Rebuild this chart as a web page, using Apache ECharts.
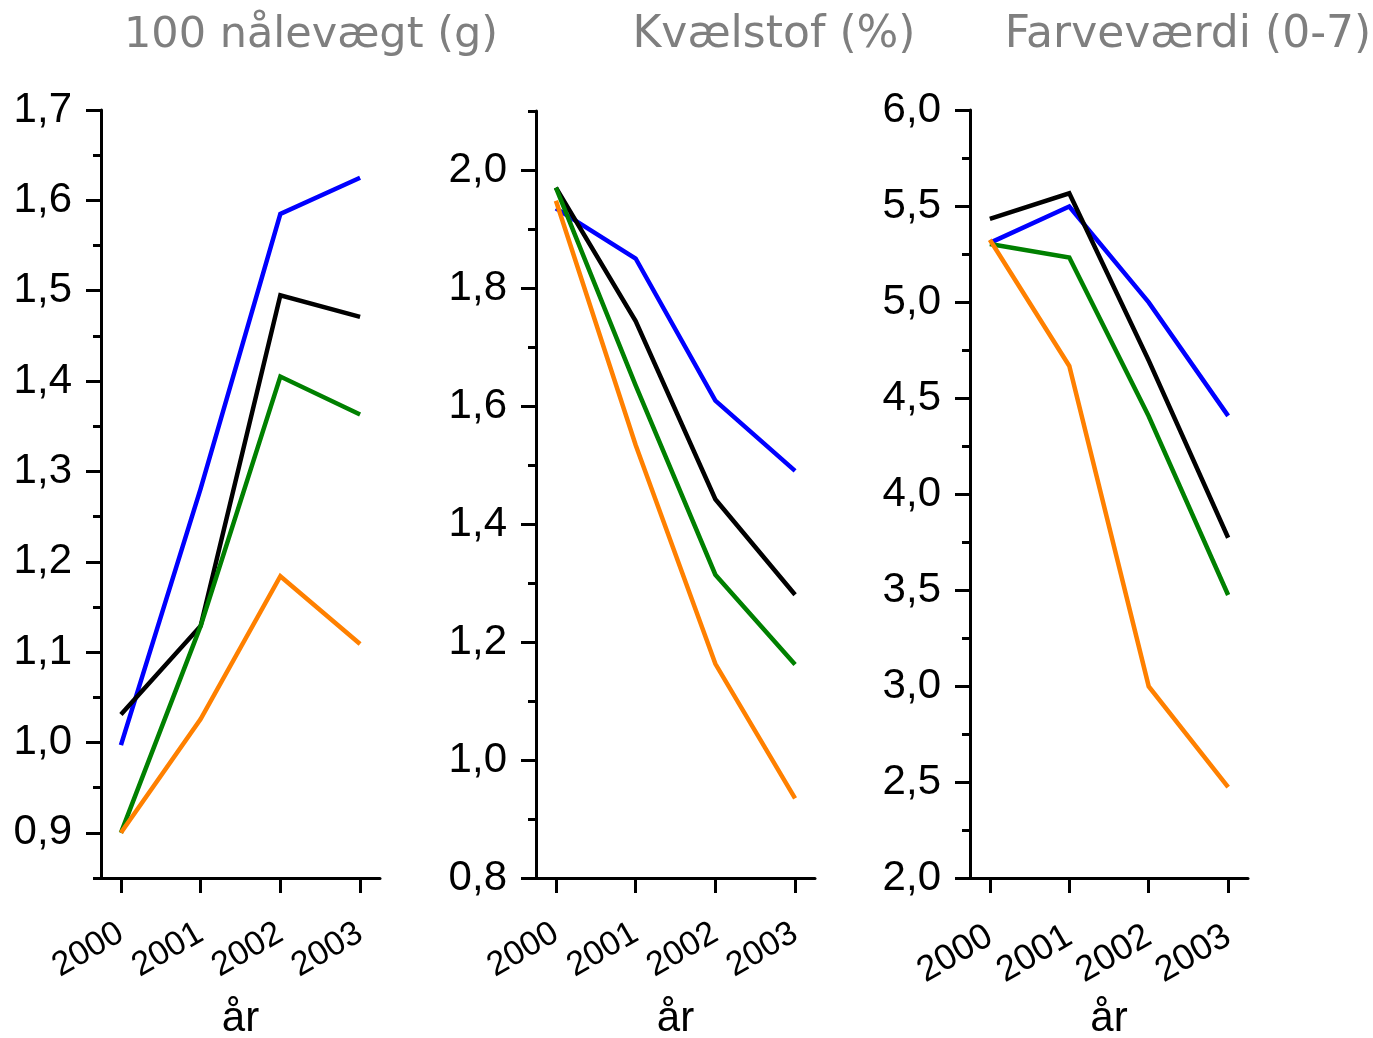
<!DOCTYPE html>
<html>
<head>
<meta charset="utf-8">
<script src="https://cdn.jsdelivr.net/npm/echarts@6/dist/echarts.min.js"></script>
<style>
html,body{margin:0;padding:0;background:#fff;}
#chart{width:1373px;height:1038px;}
</style>
</head>
<body>
<div id="chart"></div>
<script>
// ---- data ----
const years = [2000, 2001, 2002, 2003];
const panelTitles = ['100 nålevægt (g)', 'Kvælstof (%)', 'Farveværdi (0-7)'];
const xName = 'år';
const seriesColors = ['#0000ff', '#000000', '#008000', '#ff8000'];

// Panel 1: 100 nålevægt (g)
const weightBlue   = [0.997, 1.281, 1.585, 1.625];
const weightBlack  = [1.031, 1.129, 1.495, 1.471];
const weightGreen  = [0.900, 1.129, 1.405, 1.363];
const weightOrange = [0.900, 1.026, 1.184, 1.109];

// Panel 2: Kvælstof (%)
const nitrogenBlue   = [1.935, 1.850, 1.609, 1.490];
const nitrogenBlack  = [1.970, 1.744, 1.442, 1.280];
const nitrogenGreen  = [1.970, 1.635, 1.314, 1.162];
const nitrogenOrange = [1.948, 1.534, 1.163, 0.935];

// Panel 3: Farveværdi (0-7)
const colourBlue   = [5.308, 5.497, 4.998, 4.407];
const colourBlack  = [5.433, 5.566, 4.695, 3.772];
const colourGreen  = [5.302, 5.232, 4.405, 3.474];
const colourOrange = [5.324, 4.667, 2.998, 2.473];

// tick labels
const weightTicks   = [0.9, 1.0, 1.1, 1.2, 1.3, 1.4, 1.5, 1.6, 1.7];
const nitrogenTicks = [0.8, 1.0, 1.2, 1.4, 1.6, 1.8, 2.0];
const colourTicks   = [2.0, 2.5, 3.0, 3.5, 4.0, 4.5, 5.0, 5.5, 6.0];

// ---- layout ----
const panels = [
  {title: panelTitles[0], titleX: 306, titleFont: 43, left: 101, width: 279, top: 110, height: 768,
   min: 0.85, max: 1.7, minorStep: 0.05, ticks: weightTicks, xFont: 34, xMargin: 53,
   data: [weightBlue, weightBlack, weightGreen, weightOrange]},
  {title: panelTitles[1], titleX: 769, titleFont: 44, left: 536, width: 279, top: 111, height: 767,
   min: 0.8, max: 2.1, minorStep: 0.1, ticks: nitrogenTicks, xFont: 34, xMargin: 53,
   data: [nitrogenBlue, nitrogenBlack, nitrogenGreen, nitrogenOrange]},
  {title: panelTitles[2], titleX: 1183, titleFont: 44, left: 970, width: 278, top: 110, height: 768,
   min: 2.0, max: 6.0, minorStep: 0.25, ticks: colourTicks, xFont: 36, xMargin: 56,
   data: [colourBlue, colourBlack, colourGreen, colourOrange]}
];

const AXIS_COLOR = '#000';
const labelFont = '"Liberation Sans", Arial, sans-serif';

const option = {
  backgroundColor: '#fff',
  animation: false,
  title: [], grid: [], xAxis: [], yAxis: [], series: []
};

panels.forEach((p, i) => {
  option.title.push({
    text: p.title, left: p.titleX, top: 9, textAlign: 'center',
    textStyle: {fontFamily: '"DejaVu Sans", Verdana, sans-serif', fontSize: p.titleFont, fontWeight: 'normal', color: '#7f7f7f'}
  });
  option.grid.push({left: p.left, top: p.top, width: p.width, height: p.height,
    containLabel: false, outerBoundsMode: 'none'});
  option.xAxis.push({
    type: 'value', gridIndex: i, min: 1999.75, max: 2003.25,
    name: xName, nameLocation: 'middle', nameGap: 120,
    nameTextStyle: {fontFamily: labelFont, fontSize: 42, color: '#000'},
    axisLine: {show: true, onZero: false, lineStyle: {color: AXIS_COLOR, width: 3}},
    axisTick: {show: true, inside: false, length: 15, customValues: years, lineStyle: {color: AXIS_COLOR, width: 3}},
    axisLabel: {show: true, customValues: years, rotate: 30, margin: p.xMargin,
      fontFamily: labelFont, fontSize: p.xFont, color: '#000', formatter: v => String(v)},
    splitLine: {show: false}
  });
  // main y axis (labels + major ticks)
  option.yAxis.push({
    type: 'value', gridIndex: i, min: p.min, max: p.max,
    axisLine: {show: true, onZero: false, lineStyle: {color: AXIS_COLOR, width: 3}},
    axisTick: {show: true, inside: false, length: 15, customValues: p.ticks, lineStyle: {color: AXIS_COLOR, width: 3}},
    axisLabel: {show: true, customValues: p.ticks, margin: 29, fontFamily: labelFont, fontSize: 42, color: '#000',
      formatter: v => v.toFixed(1).replace('.', ',')},
    splitLine: {show: false}
  });
  // overlay y axis for minor ticks
  option.yAxis.push({
    type: 'value', gridIndex: i, min: p.min, max: p.max, interval: p.minorStep,
    position: 'left', offset: 0,
    axisLine: {show: false},
    axisTick: {show: true, inside: false, length: 8, lineStyle: {color: AXIS_COLOR, width: 3}},
    axisLabel: {show: false},
    splitLine: {show: false}
  });
  p.data.forEach((vals, k) => {
    option.series.push({
      type: 'line', xAxisIndex: i, yAxisIndex: i * 2,
      data: years.map((y, j) => [y, vals[j]]),
      symbol: 'none', smooth: false,
      lineStyle: {color: seriesColors[k], width: 4.5, join: 'miter'},
      itemStyle: {color: seriesColors[k]},
      z: 2 + k
    });
  });
});

const chart = echarts.init(document.getElementById('chart'), null, {renderer: 'canvas'});
chart.setOption(option);
</script>
</body>
</html>
